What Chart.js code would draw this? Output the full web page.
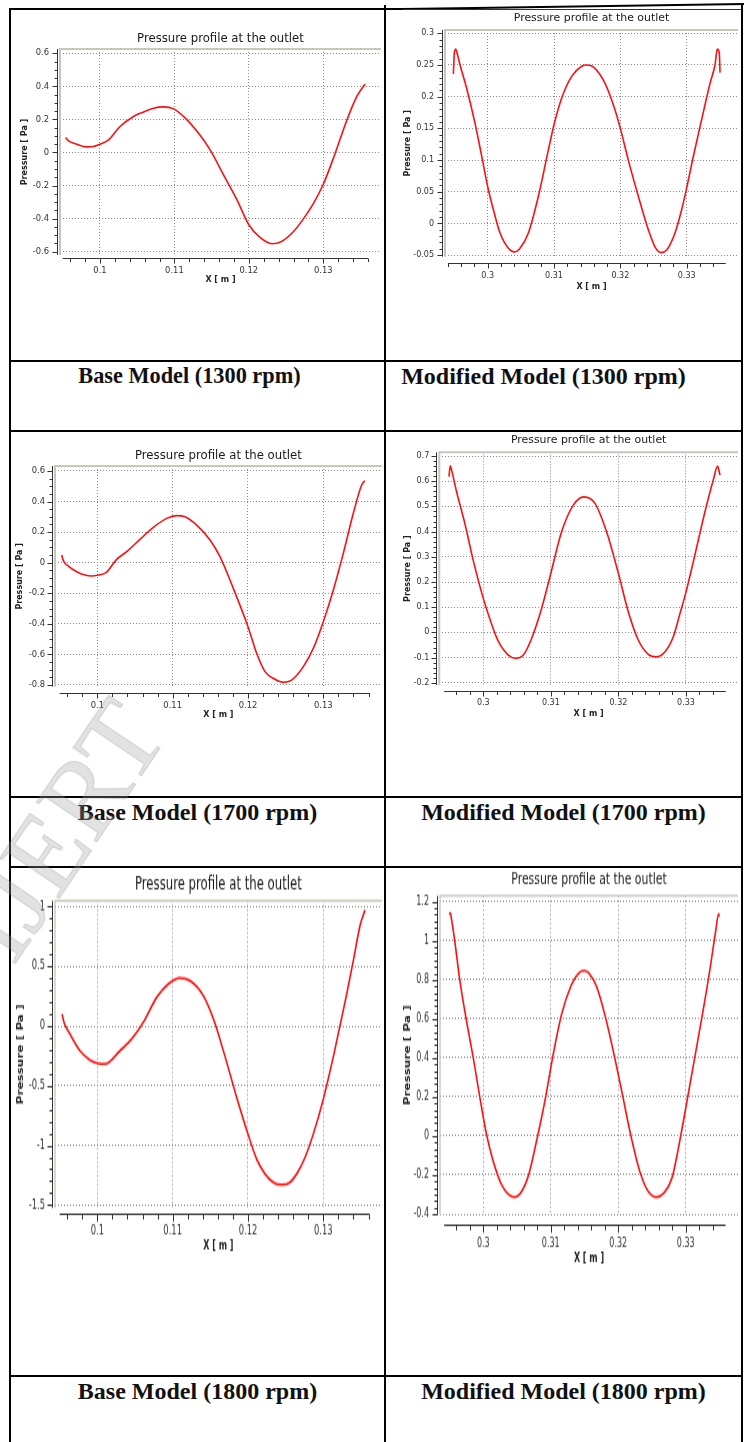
<!DOCTYPE html>
<html>
<head>
<meta charset="utf-8">
<title>Pressure profile at the outlet</title>
<script src="https://cdn.jsdelivr.net/npm/chart.js@4.4.1/dist/chart.umd.min.js"></script>
<style>
  html, body { margin: 0; padding: 0; background: #fff; }
  #page { position: relative; width: 747px; height: 1442px; overflow: hidden; }
  .rule { position: absolute; background: #000; z-index: 3; }
  .caption {
    position: absolute; height: 30px; line-height: 30px; text-align: center;
    font: bold 24px "Liberation Serif", "Times New Roman", serif; color: #111;
    box-sizing: border-box; z-index: 2; white-space: nowrap;
  }
  .plot { position: absolute; transform-origin: 0 0; z-index: 1; }
  .plot canvas { display: block; }
  #stamp {
    position: absolute; left: -105px; top: 770px; width: 320px; height: 112px;
    line-height: 112px; text-align: center;
    font: 110px "Liberation Serif", "Times New Roman", serif;
    color: rgba(160, 160, 160, 0.3); -webkit-text-stroke: 1px rgba(130, 130, 130, 0.3);
    transform: rotate(-56deg); z-index: 4; pointer-events: none;
  }
</style>
</head>
<body>
<div id="page">
  <!-- table rules -->
  <div class="rule" style="left:9px; top:9px; width:2px; height:1433px"></div>
  <div class="rule" style="left:384px; top:5px; width:2px; height:1437px"></div>
  <div class="rule" style="left:741px; top:4px; width:2px; height:1438px"></div>
  <div class="rule" style="left:9px; top:8px; width:394px; height:2px"></div>
  <div class="rule" style="left:403px; top:8px; width:341px; height:2px; transform-origin:0 0; transform:rotate(-0.84deg)"></div>
  <div class="rule" style="left:403px; top:9px; width:338px; height:1px; background:#333"></div>
  <div class="rule" style="left:9px; top:360px; width:734px; height:2px"></div>
  <div class="rule" style="left:9px; top:430px; width:734px; height:2px"></div>
  <div class="rule" style="left:9px; top:796px; width:734px; height:2px"></div>
  <div class="rule" style="left:9px; top:866px; width:734px; height:2px"></div>
  <div class="rule" style="left:9px; top:1375px; width:734px; height:2px"></div>

  <div class="plot" id="p-base1300"><canvas></canvas></div>
  <div class="plot" id="p-mod1300"><canvas></canvas></div>
  <div class="plot" id="p-base1700"><canvas></canvas></div>
  <div class="plot" id="p-mod1700"><canvas></canvas></div>
  <div class="plot" id="p-base1800"><canvas></canvas></div>
  <div class="plot" id="p-mod1800"><canvas></canvas></div>

  <div class="caption" style="left:11px; top:363px; width:373px; padding-right:16px; font-size:22.3px">Base Model (1300 rpm)</div>
  <div class="caption" style="left:386px; top:363px; width:355px; padding-right:40px">Modified Model (1300 rpm)</div>
  <div class="caption" style="left:11px; top:799px; width:373px">Base Model (1700 rpm)</div>
  <div class="caption" style="left:386px; top:799px; width:355px">Modified Model (1700 rpm)</div>
  <div class="caption" style="left:11px; top:1378px; width:373px">Base Model (1800 rpm)</div>
  <div class="caption" style="left:386px; top:1378px; width:355px">Modified Model (1800 rpm)</div>

  <div id="stamp">IJERT</div>
</div>

<script>
const FONT = '"DejaVu Sans", Verdana, sans-serif';

// outlet pressure [Pa] against X [m]
const base1300X = [0.0954, 0.0957, 0.0969, 0.0982, 0.0991, 0.1000, 0.1011, 0.1027, 0.1045, 0.1058,
  0.1072, 0.1085, 0.1099, 0.1116, 0.1134, 0.1148, 0.1166, 0.1184, 0.1200, 0.1215,
  0.1231, 0.1244, 0.1260, 0.1273, 0.1287, 0.1300, 0.1316, 0.1331, 0.1345, 0.1356];
const base1300P = [0.091, 0.073, 0.050, 0.034, 0.036, 0.050, 0.075, 0.157, 0.218, 0.244,
  0.268, 0.276, 0.264, 0.202, 0.107, 0.016, -0.135, -0.286, -0.437, -0.514,
  -0.552, -0.538, -0.478, -0.403, -0.306, -0.192, -0.004, 0.188, 0.339, 0.413];

const mod1300X = [0.29482, 0.29497, 0.29518, 0.29538, 0.29583, 0.29683, 0.29809, 0.2991, 0.3000, 0.30085,
  0.30186, 0.30312, 0.30402, 0.30487, 0.30613, 0.30764, 0.30915, 0.31005, 0.31116, 0.31266,
  0.31417, 0.31492, 0.31593, 0.31769, 0.3192, 0.3200, 0.3212, 0.32271, 0.32422, 0.32533,
  0.32613, 0.32698, 0.32824, 0.32925, 0.3300, 0.33101, 0.33226, 0.33352, 0.33427, 0.33462,
  0.33492, 0.33503];
const mod1300P = [0.236, 0.269, 0.275, 0.269, 0.250, 0.213, 0.158, 0.106, 0.058, 0.022,
  -0.015, -0.039, -0.045, -0.039, -0.015, 0.043, 0.116, 0.158, 0.198, 0.232,
  0.248, 0.250, 0.247, 0.221, 0.179, 0.150, 0.100, 0.043, -0.010, -0.039,
  -0.046, -0.042, -0.015, 0.022, 0.056, 0.106, 0.164, 0.221, 0.250, 0.275,
  0.269, 0.238];

const base1700X = [0.09527, 0.09549, 0.09615, 0.09726, 0.09836, 0.09925, 0.10013, 0.10115, 0.10257, 0.10389,
  0.10566, 0.10743, 0.10920, 0.11053, 0.11164, 0.11319, 0.11496, 0.11628, 0.11805, 0.1200,
  0.12115, 0.12226, 0.12358, 0.12469, 0.12580, 0.12735, 0.12867, 0.1300, 0.13133, 0.13265,
  0.13398, 0.13509, 0.13553];
const base1700P = [0.050, 0.013, -0.022, -0.059, -0.081, -0.087, -0.081, -0.065, 0.022, 0.072,
  0.153, 0.231, 0.290, 0.308, 0.301, 0.246, 0.148, 0.039, -0.168, -0.419,
  -0.593, -0.713, -0.763, -0.783, -0.768, -0.680, -0.561, -0.386, -0.179, 0.061,
  0.323, 0.508, 0.537];

const mod1700X = [0.29492, 0.29512, 0.29531, 0.29605, 0.29729, 0.29852, 0.3000, 0.30099, 0.30222, 0.30370,
  0.30479, 0.30592, 0.30715, 0.30863, 0.3100, 0.31159, 0.31332, 0.31490, 0.31653, 0.31825,
  0.3200, 0.32146, 0.32294, 0.32442, 0.32565, 0.32689, 0.32812, 0.32911, 0.3300, 0.33108,
  0.33281, 0.33404, 0.33468, 0.33503];
const mod1700P = [0.618, 0.661, 0.644, 0.558, 0.430, 0.285, 0.135, 0.052, -0.035, -0.090,
  -0.103, -0.090, -0.024, 0.095, 0.235, 0.399, 0.505, 0.538, 0.512, 0.399,
  0.234, 0.082, -0.030, -0.087, -0.097, -0.077, -0.017, 0.075, 0.160, 0.280,
  0.479, 0.605, 0.660, 0.624];

const base1800X = [0.09531, 0.09558, 0.09637, 0.09770, 0.09903, 0.10013, 0.10102, 0.10301, 0.10456, 0.10611,
  0.10788, 0.10942, 0.11097, 0.11230, 0.11407, 0.11549, 0.11673, 0.11850, 0.1200, 0.12115,
  0.12226, 0.12336, 0.12447, 0.12558, 0.12646, 0.12757, 0.12867, 0.1300, 0.13111, 0.13221,
  0.13310, 0.13398, 0.13487, 0.13553];
const base1800P = [0.101, 0.031, -0.067, -0.207, -0.285, -0.313, -0.318, -0.207, -0.109, 0.031,
  0.240, 0.352, 0.402, 0.380, 0.254, 0.045, -0.207, -0.598, -0.905, -1.115,
  -1.240, -1.310, -1.330, -1.310, -1.240, -1.101, -0.905, -0.612, -0.318, 0.003,
  0.268, 0.547, 0.841, 0.972];

const mod1800X = [0.29497, 0.29512, 0.29531, 0.29581, 0.29655, 0.29753, 0.29852, 0.29951, 0.30049, 0.30148,
  0.30271, 0.30380, 0.30459, 0.30543, 0.30666, 0.30789, 0.30913, 0.31036, 0.31160, 0.31307,
  0.31416, 0.31490, 0.31564, 0.31677, 0.31801, 0.31949, 0.32072, 0.32195, 0.32319, 0.32442,
  0.32565, 0.32679, 0.32797, 0.32911, 0.33010, 0.33133, 0.33256, 0.33355, 0.33444, 0.33488,
  0.33500];
const mod1800P = [1.134, 1.142, 1.108, 0.989, 0.792, 0.587, 0.400, 0.195, 0.007, -0.130,
  -0.249, -0.301, -0.313, -0.297, -0.207, -0.027, 0.178, 0.417, 0.622, 0.775,
  0.835, 0.847, 0.835, 0.767, 0.622, 0.400, 0.195, -0.010, -0.181, -0.283,
  -0.313, -0.292, -0.215, -0.027, 0.161, 0.400, 0.639, 0.844, 1.049, 1.137,
  1.125];

// labelled ticks
const baseXTicks = [0.1, 0.11, 0.12, 0.13];
const modXTicks = [0.3, 0.31, 0.32, 0.33];
const base1300YTicks = [-0.6, -0.4, -0.2, 0, 0.2, 0.4, 0.6];
const mod1300YTicks = [-0.05, 0, 0.05, 0.1, 0.15, 0.2, 0.25, 0.3];
const base1700YTicks = [-0.8, -0.6, -0.4, -0.2, 0, 0.2, 0.4, 0.6];
const mod1700YTicks = [-0.2, -0.1, 0, 0.1, 0.2, 0.3, 0.4, 0.5, 0.6, 0.7];
const base1800YTicks = [-1.5, -1, -0.5, 0, 0.5, 1];
const mod1800YTicks = [-0.4, -0.2, 0, 0.2, 0.4, 0.6, 0.8, 1, 1.2];

// where each plot sits on the page (page pixels); sy stretches a plot vertically
const panels = [
  { id: 'base1300', xs: base1300X, ps: base1300P, xTicks: baseXTicks, yTicks: base1300YTicks,
    x: 12, y: 27, w: 372, h: 263, sy: 1, plotL: 60, plotT: 49, plotR: 381, plotB: 255,
    xMin: 0.09463, xMax: 0.13775, yMin: -0.620, yMax: 0.626, axisY: 258, xFrom: 0.0950, xTo: 0.1360,
    titleY: 39, xTitleY: 280, xLabelY: 271, yTitleX: 25, yLabelR: 49,
    xMajor: 0.01, xMinor: 0.002, yMajor: 0.2, yMinor: 0.05, titleSize: 11.7, tickSize: 8.4 },
  { id: 'mod1300', xs: mod1300X, ps: mod1300P, xTicks: modXTicks, yTicks: mod1300YTicks,
    x: 388, y: 10, w: 352, h: 284, sy: 1, plotL: 445, plotT: 30, plotR: 738, plotB: 256.7,
    xMin: 0.29356, xMax: 0.33774, yMin: -0.0524, yMax: 0.3052, axisY: 263.3, xFrom: 0.2940, xTo: 0.3359,
    titleY: 18.3, xTitleY: 286.7, xLabelY: 276, yTitleX: 407.7, yLabelR: 434,
    xMajor: 0.01, xMinor: 0.002, yMajor: 0.05, yMinor: 0.01, titleSize: 10.9, tickSize: 8 },
  { id: 'base1700', xs: base1700X, ps: base1700P, xTicks: baseXTicks, yTicks: base1700YTicks,
    x: 12, y: 443, w: 372, h: 282, sy: 1, plotL: 55, plotT: 466, plotR: 381.7, plotB: 686.7,
    xMin: 0.09438, xMax: 0.13775, yMin: -0.8116, yMax: 0.6327, axisY: 693.3, xFrom: 0.0950, xTo: 0.1362,
    titleY: 455.7, xTitleY: 715.3, xLabelY: 705.7, yTitleX: 20, yLabelR: 45,
    xMajor: 0.01, xMinor: 0.002, yMajor: 0.2, yMinor: 0.05, titleSize: 11.7, tickSize: 8.4 },
  { id: 'mod1700', xs: mod1700X, ps: mod1700P, xTicks: modXTicks, yTicks: mod1700YTicks,
    x: 388, y: 430, w: 352, h: 292, sy: 1, plotL: 439.3, plotT: 452.3, plotR: 738, plotB: 685,
    xMin: 0.29349, xMax: 0.3377, yMin: -0.2087, yMax: 0.7147, axisY: 690.7, xFrom: 0.2942, xTo: 0.3359,
    titleY: 440, xTitleY: 714.3, xLabelY: 703.3, yTitleX: 407.7, yLabelR: 429.3,
    xMajor: 0.01, xMinor: 0.002, yMajor: 0.1, yMinor: 0.02, titleSize: 10.9, tickSize: 8 },
  { id: 'base1800', xs: base1800X, ps: base1800P, xTicks: baseXTicks, yTicks: base1800YTicks,
    x: 12, y: 870, w: 372, h: 390, sy: 1.5, plotL: 55, plotT: 900.7, plotR: 381.7, plotB: 1208,
    xMin: 0.09438, xMax: 0.13775, yMin: -1.525, yMax: 1.0503, axisY: 1213.3, xFrom: 0.0950, xTo: 0.1361,
    titleY: 885, xTitleY: 1246.7, xLabelY: 1231.7, yTitleX: 20.7, yLabelR: 45,
    xMajor: 0.01, xMinor: 0.002, yMajor: 0.5, yMinor: 0.1, titleSize: 11.7, tickSize: 8.4 },
  { id: 'mod1800', xs: mod1800X, ps: mod1800P, xTicks: modXTicks, yTicks: mod1800YTicks,
    x: 388, y: 866, w: 352, h: 400, sy: 1.5, plotL: 440, plotT: 895.7, plotR: 738, plotB: 1215,
    xMin: 0.29359, xMax: 0.33775, yMin: -0.405, yMax: 1.2307, axisY: 1224.3, xFrom: 0.2942, xTo: 0.3359,
    titleY: 880, xTitleY: 1258.3, xLabelY: 1243.3, yTitleX: 407.7, yLabelR: 429,
    xMajor: 0.01, xMinor: 0.002, yMajor: 0.2, yMinor: 0.2 / 6, titleSize: 10.9, tickSize: 8 }
];

const isMajor = (v, step) => Math.abs(v / step - Math.round(v / step)) < 1e-6;
const fmt = v => String(+Number(v).toFixed(4));

// frame, offset axis lines and minor/major tick marks in the CFD-Post style
const axisRules = {
  id: 'axisRules',
  beforeDatasetsDraw(chart, args, o) {
    const { ctx, chartArea: a, scales: { x, y } } = chart;
    ctx.save();
    ctx.strokeStyle = '#c6c6ba';
    ctx.lineWidth = o.frame;
    ctx.beginPath();
    ctx.moveTo(a.left, a.bottom);
    ctx.lineTo(a.left, a.top);
    ctx.lineTo(a.right, a.top);
    ctx.stroke();

    ctx.strokeStyle = '#333';
    ctx.lineWidth = 1;
    ctx.beginPath();
    const ax = Math.round(a.left - 3) + 0.5;
    ctx.moveTo(ax, a.top);
    ctx.lineTo(ax, a.bottom);
    for (let i = Math.ceil(y.min / o.yMinor - 1e-6); i * o.yMinor <= y.max + 1e-9; i++) {
      const v = i * o.yMinor;
      const py = Math.round(y.getPixelForValue(v)) + 0.5;
      const len = isMajor(v, o.yMajor) ? 5 : 3;
      ctx.moveTo(ax - len, py);
      ctx.lineTo(ax, py);
    }
    const ay = Math.round(a.bottom + o.gap) + 0.5;
    ctx.moveTo(x.getPixelForValue(o.xFrom), ay);
    ctx.lineTo(x.getPixelForValue(o.xTo), ay);
    for (let i = Math.ceil(o.xFrom / o.xMinor - 1e-6); i * o.xMinor <= o.xTo + 1e-9; i++) {
      const v = i * o.xMinor;
      const px = Math.round(x.getPixelForValue(v)) + 0.5;
      const len = isMajor(v, o.xMajor) ? 5 : 3.5;
      ctx.moveTo(px, ay);
      ctx.lineTo(px, ay + len);
    }
    ctx.stroke();
    ctx.restore();
  }
};

function drawPanel(p) {
  const holder = document.getElementById('p-' + p.id);
  const canvas = holder.querySelector('canvas');
  const H = Math.round(p.h / p.sy);
  const cy = v => (v - p.y) / p.sy;
  const top = cy(p.plotT);
  const bottom = cy(p.plotB);

  holder.style.left = p.x + 'px';
  holder.style.top = p.y + 'px';
  holder.style.transform = `scaleY(${p.sy})`;
  canvas.width = p.w;
  canvas.height = H;

  const tickFont = { family: FONT, size: p.tickSize, lineHeight: 1 };
  const axisFont = { family: FONT, size: 8, weight: 'bold', lineHeight: 1 };
  const grid = { drawTicks: false, color: '#8a8a8a', lineWidth: 1 };
  const border = { display: false, dash: [1, 2] };

  new Chart(canvas, {
    type: 'line',
    data: {
      datasets: [{
        data: p.xs.map((x, i) => ({ x, y: p.ps[i] })),
        borderColor: '#ff1010',
        borderWidth: 1.6,
        pointRadius: 0,
        cubicInterpolationMode: 'monotone',
        fill: false
      }]
    },
    options: {
      responsive: false,
      animation: false,
      devicePixelRatio: 1,
      events: [],
      layout: { autoPadding: false, padding: { left: 0, top: 0, bottom: 0, right: p.x + p.w - p.plotR } },
      plugins: {
        legend: { display: false },
        tooltip: { enabled: false },
        axisRules: {
          gap: (p.axisY - p.plotB) / p.sy, xFrom: p.xFrom, xTo: p.xTo, frame: 2 / p.sy,
          xMajor: p.xMajor, xMinor: p.xMinor, yMajor: p.yMajor, yMinor: p.yMinor
        }
      },
      scales: {
        x: {
          type: 'linear', position: 'bottom', min: p.xMin, max: p.xMax,
          afterFit: s => { s.height = H - bottom; },
          afterBuildTicks: s => { s.ticks = p.xTicks.map(v => ({ value: v })); },
          ticks: {
            font: tickFont, color: '#333', autoSkip: false, maxRotation: 0,
            padding: cy(p.xLabelY) - bottom - p.tickSize / 2, callback: fmt
          },
          grid, border,
          title: {
            display: true, text: 'X [ m ]', color: '#222', font: axisFont,
            padding: { top: 0, bottom: H - cy(p.xTitleY) - 4 }
          }
        },
        y: {
          type: 'linear', position: 'left', min: p.yMin, max: p.yMax,
          afterFit: s => { s.width = p.plotL - p.x; },
          afterBuildTicks: s => { s.ticks = p.yTicks.map(v => ({ value: v })); },
          ticks: {
            font: tickFont, color: '#333', autoSkip: false,
            padding: p.plotL - p.yLabelR, callback: fmt
          },
          grid, border,
          title: {
            display: true, text: 'Pressure [ Pa ]', color: '#222', font: axisFont,
            padding: { top: p.yTitleX - p.x - 4, bottom: 0 }
          }
        },
        // carries the plot title so it centres over the plot area
        x2: {
          type: 'linear', position: 'top', min: p.xMin, max: p.xMax,
          afterFit: s => { s.height = top; },
          ticks: { display: false },
          grid: { display: false },
          border: { display: false },
          title: {
            display: true, text: 'Pressure profile at the outlet', color: '#1a1a1a',
            font: { family: FONT, size: p.titleSize, lineHeight: 1 },
            padding: { top: cy(p.titleY) - p.titleSize / 2, bottom: 0 }
          }
        }
      }
    },
    plugins: [axisRules]
  });
}

panels.forEach(drawPanel);
</script>
</body>
</html>
